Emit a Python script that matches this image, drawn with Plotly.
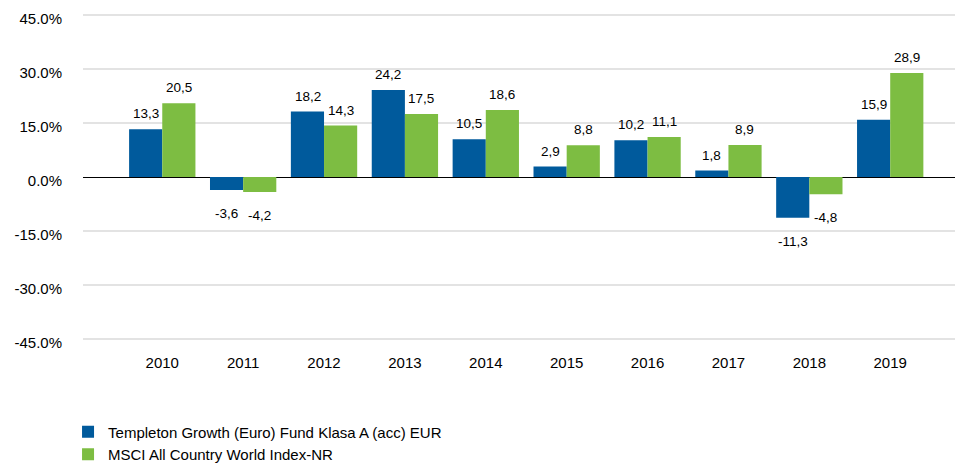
import plotly.graph_objects as go

years = ["2010", "2011", "2012", "2013", "2014", "2015", "2016", "2017", "2018", "2019"]
fund = [13.3, -3.6, 18.2, 24.2, 10.5, 2.9, 10.2, 1.8, -11.3, 15.9]
index = [20.5, -4.2, 14.3, 17.5, 18.6, 8.8, 11.1, 8.9, -4.8, 28.9]
fund_name = "Templeton Growth (Euro) Fund Klasa A (acc) EUR"
index_name = "MSCI All Country World Index-NR"
y_ticks = [-45, -30, -15, 0, 15, 30, 45]

BLUE = "#005A9C"
GREEN = "#7DBD42"
FONT = "Liberation Sans, Arial, sans-serif"

fig = go.Figure()
fig.add_bar(x=years, y=fund, name=fund_name, marker_color=BLUE, marker_line_width=0)
fig.add_bar(x=years, y=index, name=index_name, marker_color=GREEN, marker_line_width=0)

def fmt(v):
    return f"{v:.1f}".replace(".", ",")

annotations = []
for series, shift in ((fund, -16.5), (index, 16.5)):
    for i, v in enumerate(series):
        annotations.append(dict(
            x=i, y=v, xref="x", yref="y", text=fmt(v), showarrow=False,
            xshift=shift, yshift=(6 if v >= 0 else -14),
            yanchor=("bottom" if v >= 0 else "top"),
            font=dict(family=FONT, size=13.5, color="#000000"),
        ))

fig.update_layout(
    width=955, height=455,
    margin=dict(l=75, r=0, t=5, b=122, autoexpand=False),
    paper_bgcolor="white", plot_bgcolor="white",
    barmode="group", bargap=0.18, bargroupgap=0,
    font=dict(family=FONT, size=15, color="#000000"),
    showlegend=True,
    legend=dict(orientation="v", x=-0.017, xanchor="left", y=-0.395, yanchor="bottom",
                font=dict(family=FONT, size=15, color="#000000"),
                tracegroupgap=0, itemwidth=30, bgcolor="rgba(0,0,0,0)"),
    annotations=annotations,
)
fig.update_xaxes(type="category", range=[-0.98, 9.9], showgrid=False, showline=False,
                 ticks="", ticklabelstandoff=11, automargin=False,
                 tickfont=dict(family=FONT, size=15))
fig.update_yaxes(range=[-45.6, 45.6], tickvals=y_ticks,
                 ticktext=[f"{v:.1f}%" for v in y_ticks],
                 ticklabeloverflow="allow", ticklabelshift=4,
                 showgrid=True, gridcolor="#E3E3E3", gridwidth=1.5,
                 zeroline=True, zerolinecolor="#000000", zerolinewidth=1,
                 showline=False, ticks="", ticklabelstandoff=20, automargin=False,
                 tickfont=dict(family=FONT, size=15))

fig.write_html("out.html")
